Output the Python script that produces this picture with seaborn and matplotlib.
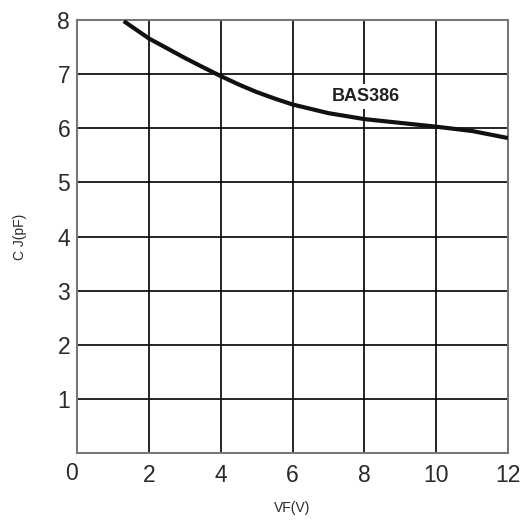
import matplotlib
matplotlib.use("Agg")
import matplotlib.pyplot as plt
import seaborn as sns
import pandas as pd
from matplotlib.transforms import ScaledTranslation

# Data
vf = [1.3, 2, 2.5, 3, 3.5, 4, 4.5, 5, 5.5, 6, 7, 8, 9, 10, 11, 12]
cj = [7.98, 7.66, 7.48, 7.30, 7.13, 6.965, 6.81, 6.67, 6.55, 6.44, 6.28, 6.17, 6.10, 6.03, 5.95, 5.82]
x_ticks = [0, 2, 4, 6, 8, 10, 12]
y_ticks = [1, 2, 3, 4, 5, 6, 7, 8]
series_label = "BAS386"

sns.set_theme(style="white")
plt.rcParams['font.family'] = ['Liberation Sans', 'DejaVu Sans']

df = pd.DataFrame({"VF": vf, "CJ": cj})

fig = plt.figure(figsize=(5.21, 5.21), dpi=100)
ax = fig.add_axes([0.148, 0.1305, 0.827, 0.831])

ax.set_xlim(0, 12)
ax.set_ylim(0, 8)
ax.set_xticks(x_ticks)
ax.set_yticks(y_ticks)
ax.grid(True, color="#000000", linewidth=1.2, alpha=1.0)
ax.set_axisbelow(True)

sns.lineplot(data=df, x="VF", y="CJ", ax=ax, color="#111111", linewidth=3.0,
             solid_capstyle="butt", zorder=3)

for s in ax.spines.values():
    s.set_color("#777777")
    s.set_linewidth(1.5)
    s.set_visible(True)

ax.tick_params(axis="both", which="both", length=0, labelsize=16.5,
               labelcolor="#2a2a2a")
ax.tick_params(axis="x", pad=8)
ax.tick_params(axis="y", pad=5)
ax.set_xticklabels([str(t) for t in x_ticks])
ax.set_yticklabels([str(t) for t in y_ticks])
lbl0 = ax.get_xticklabels()[0]
lbl0.set_transform(lbl0.get_transform() + ScaledTranslation(-6/100, 2/100, fig.dpi_scale_trans))

ax.set_xlabel("VF(V)", fontsize=10, color="#2a2a2a", labelpad=10)
ax.set_ylabel("C J(pF)", fontsize=10, color="#2a2a2a", labelpad=22)

ax.text(8.05, 6.585, series_label, ha="center", va="center", fontsize=13,
        fontweight="bold", color="#222222", fontstretch="condensed",
        family=['Liberation Sans Narrow', 'Liberation Sans', 'DejaVu Sans'],
        bbox=dict(facecolor="white", edgecolor="none", pad=3), zorder=4)

fig.savefig("out.png", dpi=100)
